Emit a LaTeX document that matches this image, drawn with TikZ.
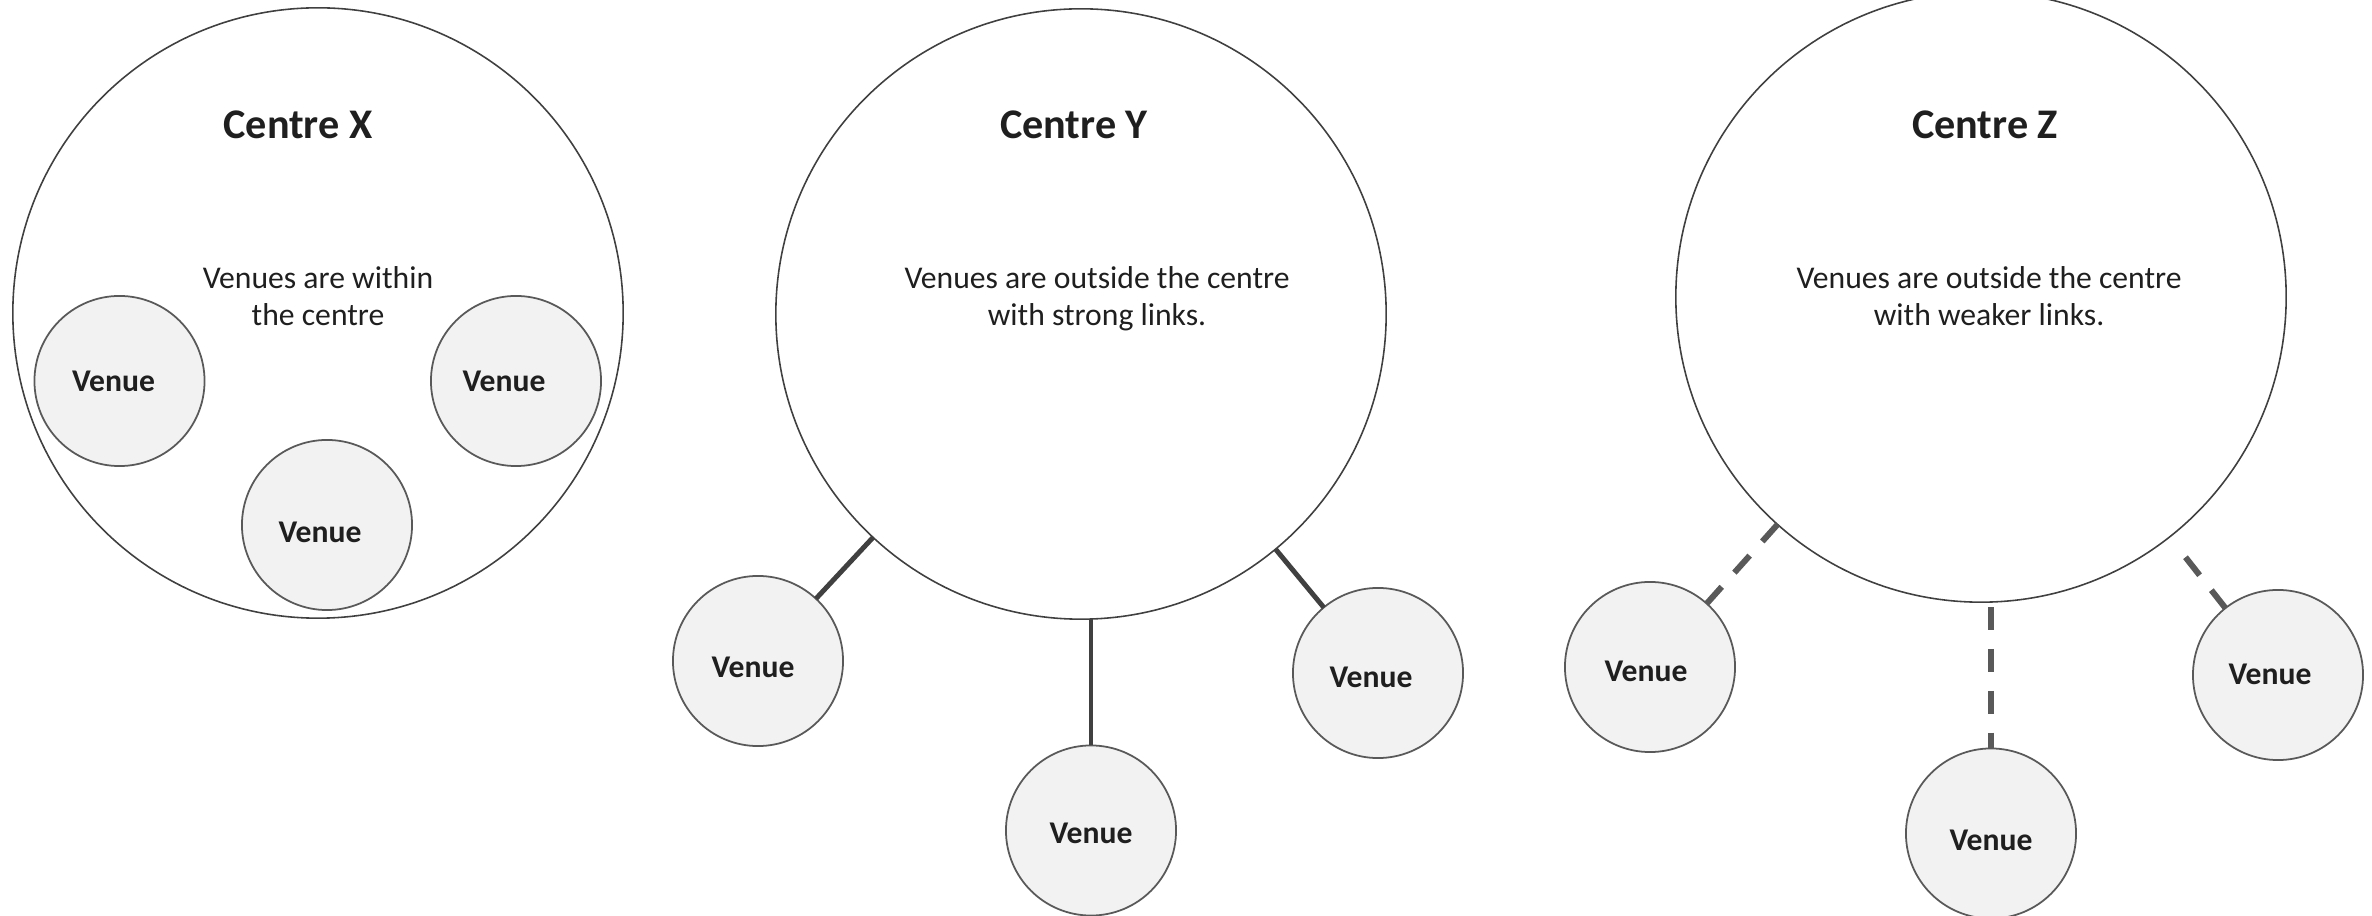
\documentclass[tikz,border=0pt]{standalone}
\usepackage{fontspec}
\setmainfont{Carlito}
\usetikzlibrary{calc}
\definecolor{ink}{HTML}{1F1F1F}
\definecolor{rim}{HTML}{404040}
\definecolor{venueline}{HTML}{595959}
\definecolor{venuefill}{HTML}{F2F2F2}
\definecolor{strongc}{HTML}{404040}
\definecolor{weakc}{HTML}{595959}
\begin{document}
\begin{tikzpicture}[x=0.01cm, y=-0.01cm,
  centre/.style={circle, draw=rim, line width=0.45pt, minimum size=6.10cm,
    inner sep=0pt, outer sep=0pt},
  venue/.style={circle, draw=venueline, fill=venuefill, line width=0.5pt,
    minimum size=1.70cm, inner sep=0pt, outer sep=0pt},
  venuetext/.style={text=ink, inner sep=0pt,
    font=\fontsize{9}{10.8}\selectfont\bfseries},
  heading/.style={anchor=base, text=ink, inner sep=0pt,
    font=\fontsize{12}{14.4}\selectfont\bfseries},
  note/.style={anchor=base, align=center, text=ink, inner sep=0pt,
    font=\fontsize{9}{10.8}\selectfont},
  stronglink/.style={draw=strongc, line width=1.4pt},
  weaklink/.style={draw=weakc, line width=1.7pt, dash pattern=on 6.5pt off 5.4pt},
]
\clip (0,0) rectangle (2372,916);

% Centre X: venues inside
\node[centre] (cx) at (318,313) {};
\node[heading] (tx) at (298,139) {Centre X};
\node[note] (nx) at (318,326) {Venues are within\\the centre};
\node[venue] (vx1) at (119.5,381) {};
\node[venue] (vx2) at (516,381) {};
\node[venue] (vx3) at (327,525) {};
\node[venuetext] (lx1) at ($(vx1)+(-6,0)$) {Venue};
\node[venuetext] (lx2) at ($(vx2)+(-12,0)$) {Venue};
\node[venuetext] (lx3) at ($(vx3)+(-7,7)$) {Venue};

% Centre Y: venues outside, strong links
\node[centre] (cy) at (1081,314) {};
\node[heading] (ty) at (1074,139) {Centre Y};
\node[note] (ny) at (1097,326) {Venues are outside the centre\\with strong links.};
\node[venue] (vy1) at (758,661) {};
\node[venue] (vy2) at (1091,830.5) {};
\node[venue] (vy3) at (1378,673) {};
\node[venuetext] (ly1) at ($(vy1)+(-5,6)$) {Venue};
\node[venuetext] (ly2) at ($(vy2)+(0,3)$) {Venue};
\node[venuetext] (ly3) at ($(vy3)+(-7,4)$) {Venue};
\draw[stronglink] (cy) -- (vy1);
\draw[stronglink] (vy2.north |- cy.south) -- (vy2.north);
\draw[stronglink] (cy) -- (vy3);

% Centre Z: venues outside, weaker links
\node[centre] (cz) at (1981,297) {};
\node[heading] (tz) at (1985,139) {Centre Z};
\node[note] (nz) at (1989,326) {Venues are outside the centre\\with weaker links.};
\node[venue] (vz1) at (1650,667) {};
\node[venue] (vz2) at (1991,833.5) {};
\node[venue] (vz3) at (2278,675) {};
\node[venuetext] (lz1) at ($(vz1)+(-4,4)$) {Venue};
\node[venuetext] (lz2) at ($(vz2)+(0,7)$) {Venue};
\node[venuetext] (lz3) at ($(vz3)+(-8,-1)$) {Venue};
\draw[weaklink] (cz) -- (vz1);
\draw[weaklink, dash phase=10.5pt] (vz2.north |- cz.south) -- (vz2.north);
\draw[weaklink, shorten >=6.5pt] (vz3) -- (cz);
\end{tikzpicture}
\end{document}
